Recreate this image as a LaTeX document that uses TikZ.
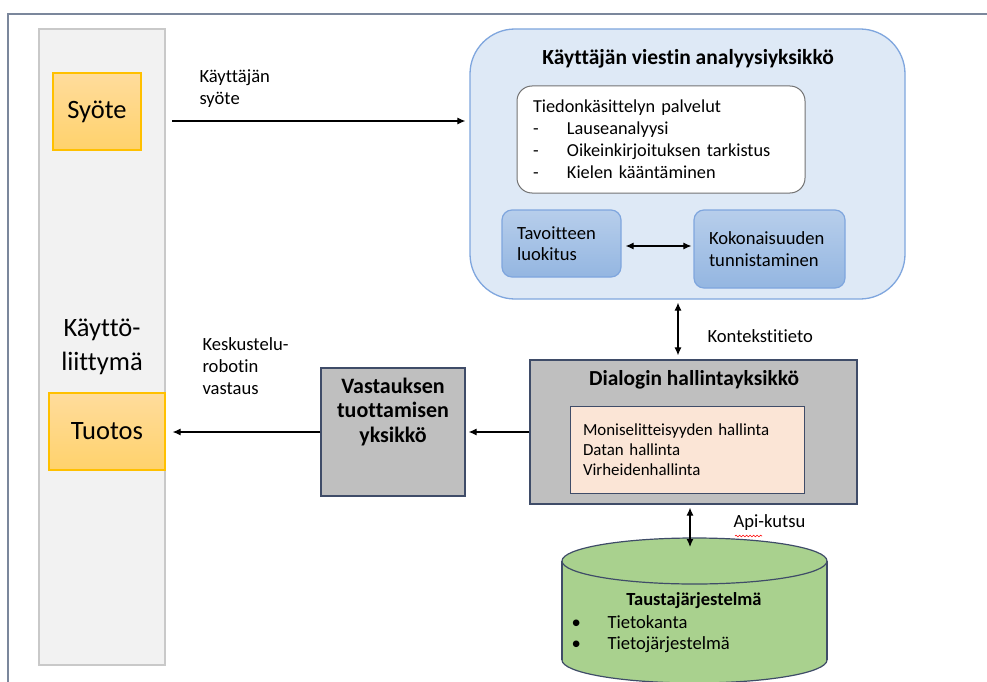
\documentclass[tikz,border=0pt]{standalone}
\usepackage{fontspec}
\setmainfont[Ligatures=NoCommon]{Carlito}
\usetikzlibrary{arrows.meta,decorations.pathmorphing}
\definecolor{frameline}{HTML}{7B879C}
\definecolor{colfill}{HTML}{F2F2F2}
\definecolor{colline}{HTML}{C9C9C9}
\definecolor{gold}{HTML}{FFC000}
\definecolor{orangetop}{HTML}{FFDC9C}
\definecolor{orangebot}{HTML}{FFD26C}
\definecolor{anafill}{HTML}{DEE9F6}
\definecolor{blueline}{HTML}{7FA6DE}
\definecolor{bluetop}{HTML}{B7CEEB}
\definecolor{bluebot}{HTML}{94B6E1}
\definecolor{navy}{HTML}{3F4C68}
\definecolor{greyfill}{HTML}{BFBFBF}
\definecolor{peach}{HTML}{FBE5D6}
\definecolor{dbgreen}{HTML}{A9D18E}
\begin{document}
\begin{tikzpicture}[x=1pt,y=-1pt,
  lbl/.style={font=\fontsize{18.6}{22}\selectfont,align=left},
  big/.style={font=\fontsize{26.5}{34}\selectfont,align=center},
  hd/.style={font=\bfseries\fontsize{21.5}{25}\selectfont},
  io/.style={draw=gold,line width=1.2pt,top color=orangetop,bottom color=orangebot,minimum width=#1,minimum height=77pt},
  sub/.style={draw=blueline,line width=1.2pt,top color=bluetop,bottom color=bluebot,rounded corners=10pt,
    inner xsep=15pt,align=left,font=\fontsize{18.6}{21.5}\selectfont},
  unit/.style={draw=navy,fill=greyfill,line width=1.3pt},
  arr/.style={-{Latex[length=8pt,width=7pt]},line width=1.1pt},
  dbl/.style={{Latex[length=8pt,width=7pt]}-{Latex[length=8pt,width=7pt]},line width=1.1pt}]
\useasboundingbox (0,0) rectangle (987,682);
\fill[white] (0,0) rectangle (987,682);
\draw[frameline,line width=1.5pt] (8,682) -- (8,14) -- (987,14);

% kayttoliittyma
\node[draw=colline,fill=colfill,line width=1.5pt,minimum width=126pt,minimum height=636pt,big] (ui) at (102,347) {Käyttö-\\liittymä};
\node[io=88pt,big] (syote) at (97,111.5) {Syöte};
\node[io=116pt,big] (tuotos) at (107,431.5) {Tuotos};

% analyysiyksikko
\node[draw=blueline,fill=anafill,line width=1.3pt,rounded corners=45pt,minimum width=435pt,minimum height=270pt] (ana) at (687.5,164) {};
\node[hd] (anatitle) at (688,59) {Käyttäjän viestin analyysiyksikkö};
\node[draw=black!55,fill=white,line width=1pt,rounded corners=15pt,minimum height=107pt,inner xsep=16pt,text width=256pt,align=left,
  font=\fontsize{18.3}{22}\selectfont] (palv) at (661,139.5)
  {Tiedonkäsittelyn palvelut\\
   \makebox[34pt][l]{-}Lauseanalyysi\\
   \makebox[34pt][l]{-}Oikeinkirjoituksen tarkistus\\
   \makebox[34pt][l]{-}Kielen kääntäminen};
\node[sub,minimum width=119pt,minimum height=67pt,text width=89pt] (tav) at (561.5,243.5) {Tavoitteen\\luokitus};
\node[sub,minimum width=151pt,minimum height=78pt,text width=121pt] (kok) at (769.5,249) {Kokonaisuuden\\tunnistaminen};
\draw[dbl,shorten <=4pt,shorten >=2pt] (tav.east |- 0,246) -- (kok.west |- 0,246);

% dialogi ja vastaus
\node[unit,minimum width=327pt,minimum height=144pt] (dlg) at (693.5,432) {};
\node[font=\bfseries\fontsize{21.4}{25}\selectfont] (dlgtitle) at (694,380) {Dialogin hallintayksikkö};
\node[draw=navy,fill=peach,line width=1pt,minimum width=234pt,minimum height=87pt,inner xsep=13pt,text width=208pt,align=left,
  font=\fontsize{16.9}{20}\selectfont] (hall) at (687,449.5)
  {Moniselitteisyyden hallinta\\Datan hallinta\\Virheidenhallinta};
\node[unit,minimum width=144pt,minimum height=128pt] (vas) at (393,432) {};
\node[font=\bfseries\fontsize{22}{24.5}\selectfont,align=center] (vastxt) at (393,412) {Vastauksen\\tuottamisen\\yksikkö};

% taustajarjestelma
\coordinate (db) at (694.5,561);
\filldraw[fill=dbgreen,draw=navy,line width=1.2pt] (694.5,660) ellipse [x radius=132.5, y radius=23];
\fill[dbgreen] (562,561) rectangle (827,660);
\draw[navy,line width=1.2pt] (562,561) -- (562,660) (827,561) -- (827,660);
\filldraw[fill=dbgreen,draw=navy,line width=1.2pt] (db) ellipse [x radius=132.5, y radius=23];
\node[font=\bfseries\fontsize{18.5}{21}\selectfont] (taus) at (694,601) {Taustajärjestelmä};
\node[lbl,anchor=west] (tk) at (568,622) {\makebox[36pt][l]{\textbullet}Tietokanta};
\node[lbl,anchor=west] (tj) at (568,645) {\makebox[36pt][l]{\textbullet}Tietojärjestelmä};

% yhteydet
\coordinate (inS) at (172,121);
\draw[arr,shorten >=4pt] (inS) -- (inS -| ana.west);
\node[lbl,anchor=north west] (inlbl) at (196,66) {Käyttäjän\\syöte};
\draw[arr,shorten >=7pt] (vas.west) -- (tuotos.east |- vas.west);
\node[lbl,anchor=north west] (outlbl) at (199,334) {Keskustelu-\\robotin\\vastaus};
\draw[arr,shorten >=3pt] (dlg.west) -- (vas.east);
\coordinate (kx) at (678,0);
\draw[dbl,shorten <=3pt,shorten >=4pt] (ana.south -| kx) -- (dlg.north -| kx);
\node[lbl,anchor=west] (ktlbl) at (704,336) {Kontekstitieto};
\coordinate (dbtop) at (690,538);
\draw[dbl,shorten <=3pt,shorten >=-9pt] (dlg.south -| dbtop) -- (dbtop);
\node[lbl,anchor=west] (apilbl) at (730,523) {Api-kutsu};
\draw[red,line width=0.6pt,decorate,decoration={snake,amplitude=0.8pt,segment length=3.5pt}] (735,536) -- (762,536);
\end{tikzpicture}
\end{document}
